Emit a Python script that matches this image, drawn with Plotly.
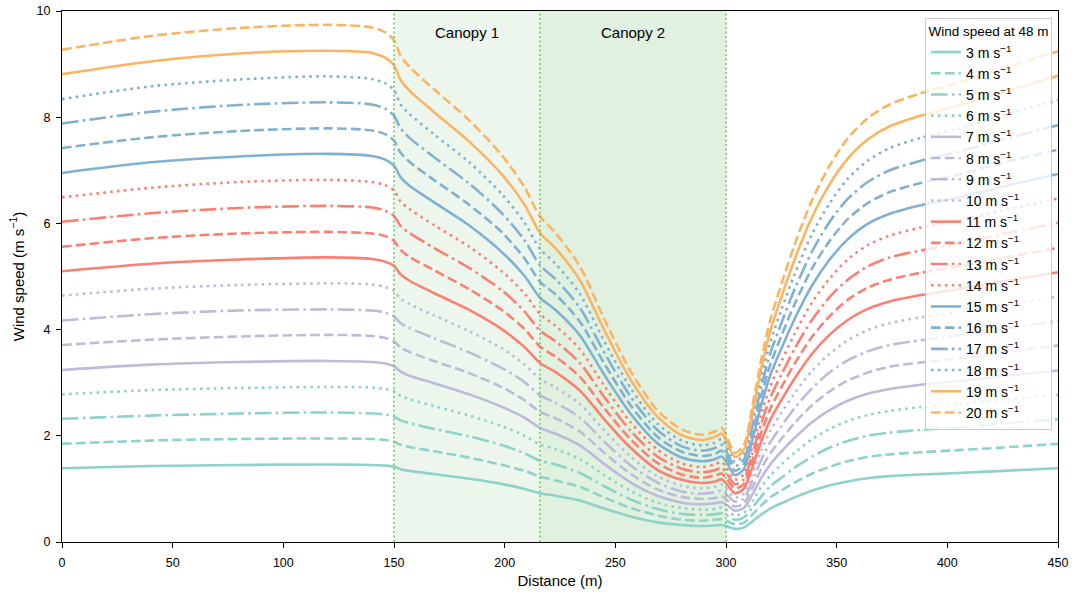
import plotly.graph_objects as go

# Distance along transect (m)
distance = [0, 40, 80, 120, 140, 146, 150, 153, 157, 168, 184, 199, 209, 216, 223, 234, 245, 257,
            269, 280, 289, 295, 298, 300, 304, 308, 312, 316, 320, 325, 331, 339, 347, 355, 364,
            374, 388, 405, 425, 450]

# Reference wind speed at 48 m (m s-1)
speeds = [3, 4, 5, 6, 7, 8, 9, 10, 11, 12, 13, 14, 15, 16, 17, 18, 19, 20]

ws_3 = [1.39, 1.43, 1.45, 1.46, 1.45, 1.44, 1.42, 1.37, 1.34, 1.28, 1.19, 1.09, 1.00, 0.92, 0.87, 0.78, 0.63, 0.48,
        0.37, 0.32, 0.30, 0.31, 0.32, 0.30, 0.25, 0.27,
        0.39, 0.52, 0.63, 0.73, 0.84, 0.97, 1.07, 1.14, 1.20, 1.24, 1.27, 1.30, 1.34, 1.39]
ws_4 = [1.85, 1.91, 1.94, 1.95, 1.94, 1.92, 1.89, 1.83, 1.79, 1.71, 1.59, 1.45, 1.34, 1.23, 1.16, 1.04, 0.84, 0.64,
        0.50, 0.42, 0.40, 0.42, 0.43, 0.40, 0.34, 0.36,
        0.52, 0.69, 0.84, 0.97, 1.12, 1.29, 1.42, 1.52, 1.60, 1.65, 1.69, 1.73, 1.78, 1.85]
ws_5 = [2.32, 2.38, 2.42, 2.44, 2.42, 2.40, 2.36, 2.29, 2.24, 2.13, 1.99, 1.82, 1.67, 1.53, 1.46, 1.30, 1.05, 0.80,
        0.62, 0.53, 0.51, 0.52, 0.54, 0.51, 0.42, 0.46,
        0.65, 0.86, 1.05, 1.21, 1.40, 1.61, 1.78, 1.90, 2.00, 2.06, 2.11, 2.16, 2.23, 2.31]
ws_6 = [2.78, 2.86, 2.90, 2.92, 2.91, 2.88, 2.84, 2.75, 2.69, 2.56, 2.38, 2.18, 2.00, 1.84, 1.75, 1.56, 1.26, 0.96,
        0.74, 0.64, 0.61, 0.62, 0.65, 0.61, 0.50, 0.55,
        0.77, 1.04, 1.25, 1.46, 1.68, 1.94, 2.13, 2.28, 2.39, 2.47, 2.54, 2.60, 2.68, 2.77]
ws_7 = [3.24, 3.34, 3.39, 3.41, 3.39, 3.36, 3.31, 3.21, 3.13, 2.99, 2.78, 2.54, 2.34, 2.15, 2.04, 1.82, 1.47, 1.12,
        0.87, 0.74, 0.71, 0.73, 0.75, 0.71, 0.59, 0.64,
        0.90, 1.21, 1.46, 1.70, 1.96, 2.26, 2.49, 2.66, 2.79, 2.88, 2.96, 3.03, 3.12, 3.23]
ws_8 = [3.71, 3.81, 3.87, 3.90, 3.88, 3.84, 3.78, 3.66, 3.58, 3.41, 3.18, 2.91, 2.67, 2.45, 2.33, 2.08, 1.68, 1.28,
        0.99, 0.85, 0.81, 0.83, 0.86, 0.81, 0.67, 0.73,
        1.03, 1.38, 1.67, 1.94, 2.24, 2.58, 2.84, 3.04, 3.19, 3.30, 3.38, 3.46, 3.57, 3.70]
ws_9 = [4.17, 4.29, 4.36, 4.38, 4.36, 4.32, 4.25, 4.12, 4.03, 3.84, 3.57, 3.27, 3.01, 2.76, 2.62, 2.34, 1.89, 1.44,
        1.12, 0.95, 0.91, 0.94, 0.97, 0.91, 0.76, 0.82,
        1.16, 1.55, 1.88, 2.18, 2.52, 2.90, 3.20, 3.42, 3.59, 3.71, 3.80, 3.89, 4.01, 4.16]
ws_10 = [4.64, 4.77, 4.84, 4.87, 4.85, 4.80, 4.73, 4.58, 4.48, 4.27, 3.97, 3.64, 3.34, 3.07, 2.91, 2.60, 2.10, 1.61,
         1.24, 1.06, 1.01, 1.04, 1.08, 1.01, 0.84, 0.91,
         1.29, 1.73, 2.09, 2.43, 2.80, 3.23, 3.55, 3.80, 3.99, 4.12, 4.23, 4.33, 4.46, 4.62]
ws_11 = [5.10, 5.24, 5.32, 5.36, 5.33, 5.28, 5.20, 5.04, 4.92, 4.69, 4.37, 4.00, 3.67, 3.37, 3.20, 2.85, 2.31, 1.77,
         1.36, 1.17, 1.11, 1.14, 1.18, 1.11, 0.92, 1.00,
         1.42, 1.90, 2.30, 2.67, 3.08, 3.55, 3.91, 4.18, 4.39, 4.53, 4.65, 4.76, 4.91, 5.08]
ws_12 = [5.56, 5.72, 5.81, 5.84, 5.81, 5.76, 5.67, 5.50, 5.37, 5.12, 4.76, 4.36, 4.01, 3.68, 3.49, 3.11, 2.52, 1.93,
         1.49, 1.27, 1.21, 1.25, 1.29, 1.21, 1.01, 1.09,
         1.55, 2.07, 2.51, 2.91, 3.36, 3.87, 4.26, 4.56, 4.79, 4.94, 5.07, 5.19, 5.35, 5.54]
ws_13 = [6.03, 6.19, 6.29, 6.33, 6.30, 6.24, 6.14, 5.95, 5.82, 5.54, 5.16, 4.73, 4.34, 3.98, 3.78, 3.37, 2.73, 2.09,
         1.61, 1.38, 1.31, 1.35, 1.40, 1.31, 1.09, 1.18,
         1.68, 2.24, 2.72, 3.15, 3.64, 4.19, 4.62, 4.94, 5.19, 5.36, 5.49, 5.62, 5.80, 6.01]
ws_14 = [6.49, 6.67, 6.78, 6.82, 6.78, 6.72, 6.62, 6.41, 6.27, 5.97, 5.56, 5.09, 4.68, 4.29, 4.07, 3.63, 2.94, 2.25,
         1.74, 1.48, 1.41, 1.46, 1.51, 1.41, 1.18, 1.27,
         1.81, 2.42, 2.93, 3.40, 3.92, 4.52, 4.97, 5.32, 5.59, 5.77, 5.92, 6.06, 6.24, 6.47]
ws_15 = [6.95, 7.15, 7.26, 7.31, 7.27, 7.20, 7.09, 6.87, 6.71, 6.40, 5.96, 5.45, 5.01, 4.60, 4.37, 3.89, 3.15, 2.41,
         1.86, 1.59, 1.52, 1.56, 1.61, 1.52, 1.26, 1.37,
         1.94, 2.59, 3.14, 3.64, 4.20, 4.84, 5.33, 5.70, 5.99, 6.18, 6.34, 6.49, 6.69, 6.93]
ws_16 = [7.42, 7.62, 7.74, 7.79, 7.75, 7.68, 7.56, 7.33, 7.16, 6.82, 6.35, 5.82, 5.34, 4.90, 4.66, 4.15, 3.36, 2.57,
         1.98, 1.70, 1.62, 1.66, 1.72, 1.62, 1.34, 1.46,
         2.06, 2.76, 3.34, 3.88, 4.48, 5.16, 5.68, 6.08, 6.38, 6.59, 6.76, 6.92, 7.14, 7.39]
ws_17 = [7.88, 8.10, 8.23, 8.28, 8.24, 8.16, 8.03, 7.79, 7.61, 7.25, 6.75, 6.18, 5.68, 5.21, 4.95, 4.41, 3.57, 2.73,
         2.11, 1.80, 1.72, 1.77, 1.83, 1.72, 1.43, 1.55,
         2.19, 2.93, 3.55, 4.12, 4.76, 5.48, 6.04, 6.46, 6.78, 7.00, 7.18, 7.35, 7.58, 7.85]
ws_18 = [8.34, 8.58, 8.71, 8.77, 8.72, 8.64, 8.51, 8.24, 8.06, 7.68, 7.15, 6.54, 6.01, 5.52, 5.24, 4.67, 3.78, 2.89,
         2.23, 1.91, 1.82, 1.87, 1.94, 1.82, 1.51, 1.64,
         2.32, 3.11, 3.76, 4.37, 5.04, 5.81, 6.39, 6.84, 7.18, 7.42, 7.61, 7.79, 8.03, 8.32]
ws_19 = [8.81, 9.05, 9.20, 9.25, 9.21, 9.12, 8.98, 8.70, 8.50, 8.10, 7.54, 6.91, 6.35, 5.82, 5.53, 4.93, 3.99, 3.05,
         2.36, 2.01, 1.92, 1.98, 2.04, 1.92, 1.60, 1.73,
         2.45, 3.28, 3.97, 4.61, 5.32, 6.13, 6.75, 7.22, 7.58, 7.83, 8.03, 8.22, 8.47, 8.78]
ws_20 = [9.27, 9.53, 9.68, 9.74, 9.69, 9.60, 9.45, 9.16, 8.95, 8.53, 7.94, 7.27, 6.68, 6.13, 5.82, 5.19, 4.20, 3.21,
         2.48, 2.12, 2.02, 2.08, 2.15, 2.02, 1.68, 1.82,
         2.58, 3.45, 4.18, 4.85, 5.60, 6.45, 7.10, 7.60, 7.98, 8.24, 8.45, 8.65, 8.92, 9.24]

series = [ws_3, ws_4, ws_5, ws_6, ws_7, ws_8, ws_9, ws_10, ws_11, ws_12,
          ws_13, ws_14, ws_15, ws_16, ws_17, ws_18, ws_19, ws_20]

# Canopy extents (m)
canopy_names = ["Canopy 1", "Canopy 2"]
canopy_start = [150, 216]
canopy_end = [216, 300]

# Styles
group_colors = ["#8dd3c7", "#bebada", "#fb8072", "#80b1d3", "#fdb462"]
lw = 2.6
dash_cycle = [
    "solid",
    f"{3.7*lw:.1f}px,{1.6*lw:.1f}px",
    f"{6.4*lw:.1f}px,{1.6*lw:.1f}px,{1.0*lw:.1f}px,{1.6*lw:.1f}px",
    f"{1.0*lw:.1f}px,{1.65*lw:.1f}px",
]
canopy_fill = ["rgba(44,160,44,0.09)", "rgba(44,160,44,0.15)"]
font_family = "Liberation Sans, Arial, sans-serif"

fig = go.Figure()

for i, (spd, vals) in enumerate(zip(speeds, series)):
    fig.add_trace(go.Scatter(
        x=distance, y=vals, mode="lines",
        name=f"{spd} m s<sup>\u22121</sup>",
        line=dict(color=group_colors[i // 4], width=lw, dash=dash_cycle[i % 4],
                  shape="spline", smoothing=0.8),
    ))

shapes = []
for s, e, fc in zip(canopy_start, canopy_end, canopy_fill):
    shapes.append(dict(type="rect", xref="x", yref="paper", x0=s, x1=e, y0=0, y1=1,
                       fillcolor=fc, line=dict(width=0), layer="below"))
for xv in sorted(set(canopy_start + canopy_end)):
    shapes.append(dict(type="line", xref="x", yref="paper", x0=xv, x1=xv, y0=0, y1=1,
                       line=dict(color="rgba(110,195,90,0.9)", width=1.6, dash="2px,2.5px"),
                       layer="above"))

annotations = []
for name, s, e in zip(canopy_names, canopy_start, canopy_end):
    annotations.append(dict(x=(s + e) / 2, y=9.6, xref="x", yref="y", text=name,
                            showarrow=False, font=dict(size=15, color="black", family=font_family)))

fig.update_layout(
    width=1077, height=592,
    margin=dict(l=62, r=19, t=11, b=50, autoexpand=False),
    paper_bgcolor="white", plot_bgcolor="white",
    font=dict(family=font_family, size=12, color="black"),
    shapes=shapes, annotations=annotations,
    showlegend=True,
    legend=dict(
        x=0.994, y=0.987, xanchor="right", yanchor="top",
        bgcolor="rgba(255,255,255,0.8)", bordercolor="#cccccc", borderwidth=1,
        font=dict(size=14, family=font_family),
        title=dict(text="Wind speed at 48 m", side="top center", font=dict(size=13.5, family=font_family)),
        itemwidth=30, tracegroupgap=0,
    ),
)

fig.update_xaxes(
    range=[0, 450], tickvals=[0, 50, 100, 150, 200, 250, 300, 350, 400, 450],
    showline=True, linecolor="black", linewidth=1.2, mirror=True,
    ticks="outside", ticklen=5, tickcolor="black", showgrid=False, zeroline=False,
    ticklabelstandoff=4, automargin=False,
    title=dict(text="Distance (m)", font=dict(size=15), standoff=6),
    tickfont=dict(size=12.5),
)
fig.update_yaxes(
    range=[0, 10], tickvals=[0, 2, 4, 6, 8, 10],
    showline=True, linecolor="black", linewidth=1.2, mirror=True,
    ticks="outside", ticklen=5, tickcolor="black", showgrid=False, zeroline=False,
    ticklabelstandoff=3, automargin=False,
    title=dict(text="Wind speed (m s<sup>\u22121</sup>)", font=dict(size=15), standoff=8),
    tickfont=dict(size=12.5),
)

fig.write_html("out.html")
